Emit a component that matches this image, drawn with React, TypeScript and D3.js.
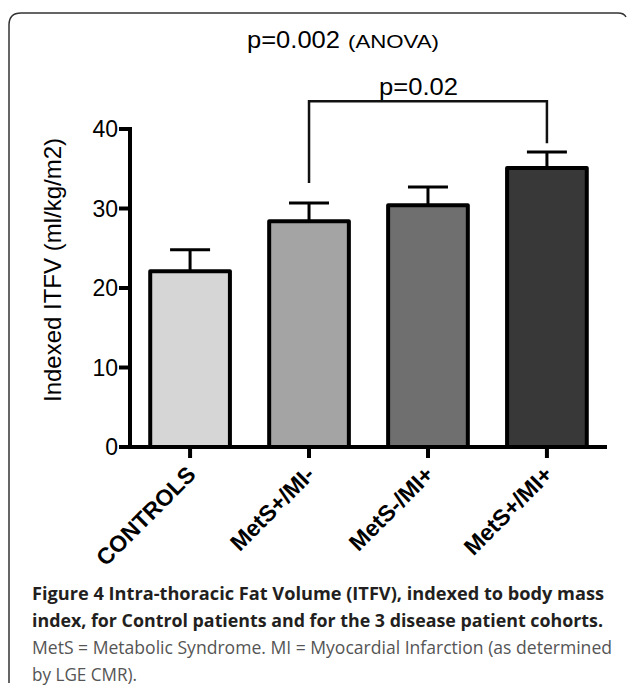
import React, { useEffect, useRef } from 'react';
import * as d3 from 'd3';

const WIDTH = 627;
const HEIGHT = 693;
const PLOT = { left: 130, right: 607, top: 129, bottom: 447 };
const FONT = "'Liberation Sans', Arial, Helvetica, sans-serif";
const CAPTION_FONT = "'Open Sans', 'Noto Sans', sans-serif";

const CATEGORIES = ["CONTROLS", "MetS+/MI-", "MetS-/MI+", "MetS+/MI+"];
const MEANS = [22.1, 28.4, 30.4, 35.1];
const SEMS = [2.7, 2.3, 2.3, 2.0];
const FILLS = ["#d6d6d6", "#a4a4a4", "#6f6f6f", "#383838"];
const Y_TICKS = [0, 10, 20, 30, 40];

// bracket between MetS+/MI- and MetS+/MI+ (data units)
const BRACKET = { from: "MetS+/MI-", to: "MetS+/MI+", top: 43.5, leftEnd: 33.2, rightEnd: 38.2 };

const AXIS_W = 4;
const TICK = 11;

export default function App() {
    const svgRef = useRef(null);

    useEffect(() => {
        if (!svgRef.current) return;
        const svg = d3.select(svgRef.current);

        const x = d3.scaleBand()
            .domain(CATEGORIES)
            .range([PLOT.left, PLOT.right])
            .paddingInner(0.33)
            .paddingOuter(0.17);

        const y = d3.scaleLinear()
            .domain([0, 40])
            .range([PLOT.bottom, PLOT.top]);

        const g = svg.append("g");
        const cx = (d) => x(d) + x.bandwidth() / 2;

        // bars
        g.selectAll("rect.bar")
            .data(MEANS)
            .join("rect")
            .attr("class", "bar")
            .attr("x", (_, i) => x(CATEGORIES[i]))
            .attr("y", d => y(d))
            .attr("width", x.bandwidth())
            .attr("height", d => PLOT.bottom - y(d))
            .attr("fill", (_, i) => FILLS[i])
            .attr("stroke", "#000")
            .attr("stroke-width", 4)
            .attr("stroke-linejoin", "round");

        // error bars (upper only)
        g.selectAll("line.err")
            .data(MEANS)
            .join("line")
            .attr("class", "err")
            .attr("x1", (_, i) => cx(CATEGORIES[i])).attr("x2", (_, i) => cx(CATEGORIES[i]))
            .attr("y1", d => y(d))
            .attr("y2", (d, i) => y(d + SEMS[i]))
            .attr("stroke", "#000").attr("stroke-width", 3);
        g.selectAll("line.cap")
            .data(MEANS)
            .join("line")
            .attr("class", "cap")
            .attr("x1", (_, i) => cx(CATEGORIES[i]) - 20).attr("x2", (_, i) => cx(CATEGORIES[i]) + 20)
            .attr("y1", (d, i) => y(d + SEMS[i]))
            .attr("y2", (d, i) => y(d + SEMS[i]))
            .attr("stroke", "#000").attr("stroke-width", 3);

        // y axis
        g.append("line")
            .attr("x1", PLOT.left).attr("x2", PLOT.left)
            .attr("y1", y(0) + AXIS_W / 2).attr("y2", y(40) - AXIS_W / 2)
            .attr("stroke", "#000").attr("stroke-width", AXIS_W);
        g.selectAll("line.ytick")
            .data(Y_TICKS)
            .join("line")
            .attr("class", "ytick")
            .attr("x1", PLOT.left - TICK).attr("x2", PLOT.left)
            .attr("y1", d => y(d)).attr("y2", d => y(d))
            .attr("stroke", "#000").attr("stroke-width", AXIS_W);
        g.selectAll("text.ytick")
            .data(Y_TICKS)
            .join("text")
            .attr("class", "ytick")
            .attr("x", PLOT.left - TICK - 1)
            .attr("y", d => y(d))
            .attr("dy", "0.36em")
            .attr("text-anchor", "end")
            .attr("font-family", FONT).attr("font-size", 23)
            .text(d => d);

        // x axis
        g.append("line")
            .attr("x1", PLOT.left).attr("x2", PLOT.right)
            .attr("y1", y(0)).attr("y2", y(0))
            .attr("stroke", "#000").attr("stroke-width", AXIS_W);
        g.selectAll("line.xtick")
            .data(CATEGORIES)
            .join("line")
            .attr("class", "xtick")
            .attr("x1", d => cx(d)).attr("x2", d => cx(d))
            .attr("y1", y(0)).attr("y2", y(0) + TICK)
            .attr("stroke", "#000").attr("stroke-width", AXIS_W);

        // x labels
        g.selectAll("text.xlab")
            .data(CATEGORIES)
            .join("text")
            .attr("class", "xlab")
            .attr("transform", d => `translate(${cx(d) + 7}, 476) rotate(-45)`)
            .attr("text-anchor", "end")
            .attr("font-family", FONT)
            .attr("font-weight", "bold")
            .attr("font-size", 23)
            .text(d => d);

        // y label
        g.append("text")
            .attr("transform", `translate(61, 270) rotate(-90)`)
            .attr("text-anchor", "middle")
            .attr("font-family", FONT)
            .attr("font-size", 24)
            .text("Indexed ITFV (ml/kg/m2)");

        // significance bracket
        g.append("path")
            .attr("d", `M${cx(BRACKET.from)},${y(BRACKET.leftEnd)}V${y(BRACKET.top)}H${cx(BRACKET.to)}V${y(BRACKET.rightEnd)}`)
            .attr("fill", "none")
            .attr("stroke", "#111")
            .attr("stroke-width", 2.5);

        return () => {
            svg.selectAll("*").remove();
        };
    }, []);

    return (
        <div style={{ position: "absolute", left: 0, top: 0 }}>
            <svg width={WIDTH} height={HEIGHT} style={{ display: "block", background: "#fff" }}>
                <path d="M9,683 V25 Q9,13 21,13 H618 Q624,13 626,17" fill="none" stroke="#333" strokeWidth={1.5} />
                <text x={247} y={48} fontFamily={FONT} fontSize={24} textLength={93} lengthAdjust="spacingAndGlyphs">p=0.002</text>
                <text x={348} y={48} fontFamily={FONT} fontSize={19} textLength={91} lengthAdjust="spacingAndGlyphs">(ANOVA)</text>
                <text x={379} y={95} fontFamily={FONT} fontSize={24} textLength={79} lengthAdjust="spacingAndGlyphs">p=0.02</text>
                <g ref={svgRef}></g>
                <g fontFamily={CAPTION_FONT} fontSize={18}>
                    <text x={32} y={600} fontWeight="bold" fill="#231f20" textLength={572} lengthAdjust="spacingAndGlyphs">Figure 4 Intra-thoracic Fat Volume (ITFV), indexed to body mass</text>
                    <text x={32} y={627} fontWeight="bold" fill="#231f20" textLength={571} lengthAdjust="spacingAndGlyphs">index, for Control patients and for the 3 disease patient cohorts.</text>
                    <text x={32} y={654} fill="#555" textLength={580} lengthAdjust="spacingAndGlyphs">MetS = Metabolic Syndrome. MI = Myocardial Infarction (as determined</text>
                    <text x={32} y={681} fill="#555" textLength={105} lengthAdjust="spacingAndGlyphs">by LGE CMR).</text>
                </g>
            </svg>
        </div>
    );
}
